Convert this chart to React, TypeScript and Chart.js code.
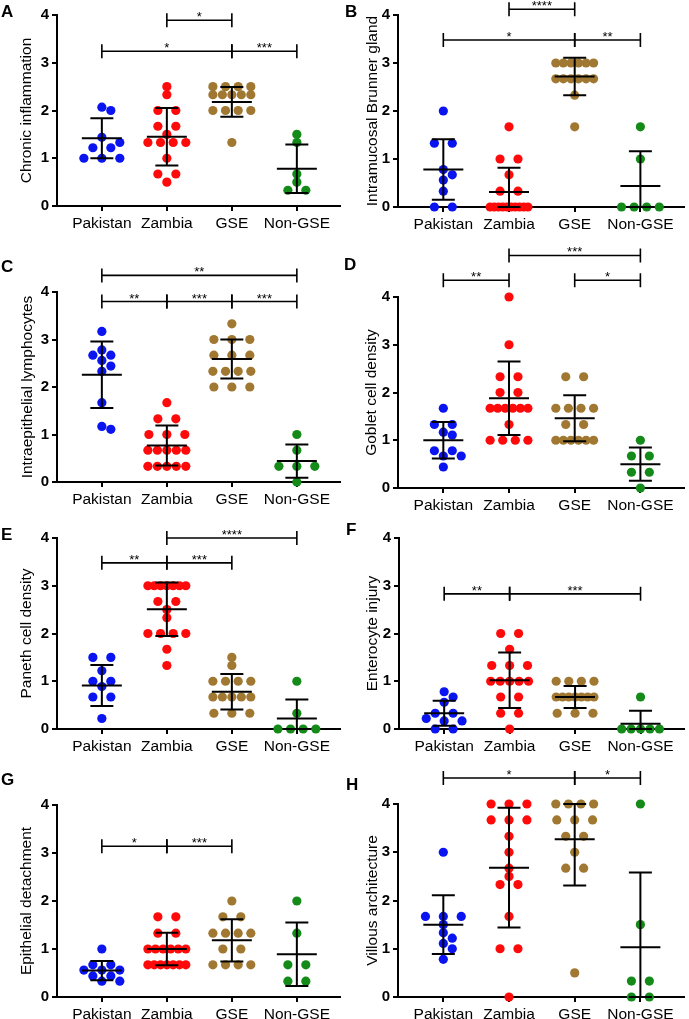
import React, { useEffect, useRef } from 'react';
import { Chart, registerables } from 'chart.js';
Chart.register(...registerables);

// ---------------- data ----------------
const categories = ['Pakistan', 'Zambia', 'GSE', 'Non-GSE'];
const yTickValues = [0, 1, 2, 3, 4];

// A – Chronic inflammation
const chronicPakistan = [2.07, 2.0, 1.44, 1.33, 1.22, 1.22, 1.0, 1.0, 1.0];
const chronicZambia = [2.5, 2.33, 2.0, 2.0, 1.67, 1.67, 1.5, 1.33, 1.33, 1.33, 1.33, 1.0, 0.67, 0.67, 0.5];
const chronicGSE = [2.5, 2.5, 2.5, 2.5, 2.33, 2.33, 2.33, 2.33, 2.33, 2.0, 2.0, 2.0, 2.0, 1.33];
const chronicNonGSE = [1.5, 1.33, 0.67, 0.5, 0.33, 0.33];
const chronicMeans = [1.42, 1.45, 2.18, 0.78];
const chronicSDs = [0.42, 0.6, 0.31, 0.51];
const chronicBrackets: [number, number, number, string][] = [[1, 2, 3.89, '*'], [0, 2, 3.24, '*'], [2, 3, 3.24, '***']];

// B – Intramucosal Brunner gland
const brunnerPakistan = [2.0, 1.33, 1.33, 0.78, 0.67, 0.56, 0.33, 0, 0];
const brunnerZambia = [1.67, 1.0, 1.0, 0.67, 0.33, 0.33, 0, 0, 0, 0, 0, 0, 0, 0, 0, 0];
const brunnerGSE = [3, 3, 3, 3, 3, 3, 2.67, 2.67, 2.67, 2.67, 2.67, 2.67, 2.33, 1.67];
const brunnerNonGSE = [1.67, 1.0, 0, 0, 0, 0];
const brunnerMeans = [0.78, 0.31, 2.72, 0.44];
const brunnerSDs = [0.63, 0.51, 0.39, 0.72];
const brunnerBrackets: [number, number, number, string][] = [[1, 2, 4.12, '****'], [0, 2, 3.48, '*'], [2, 3, 3.48, '**']];

// C – Intraepithelial lymphocytes
const ielPakistan = [3.17, 2.78, 2.67, 2.67, 2.56, 2.44, 2.33, 1.67, 1.17, 1.11];
const ielZambia = [1.67, 1.33, 1.33, 1, 1, 1, 0.67, 0.67, 0.67, 0.67, 0.67, 0.33, 0.33, 0.33, 0.33, 0.33];
const ielGSE = [3.33, 3, 3, 3, 2.67, 2.67, 2.67, 2.33, 2.33, 2.33, 2.33, 2, 2, 2];
const ielNonGSE = [1.0, 0.67, 0.33, 0.33, 0.33, 0];
const ielMeans = [2.26, 0.77, 2.59, 0.44];
const ielSDs = [0.7, 0.42, 0.41, 0.35];
const ielBrackets: [number, number, number, string][] = [[0, 3, 4.35, '**'], [0, 1, 3.8, '**'], [1, 2, 3.8, '***'], [2, 3, 3.8, '***']];

// D – Goblet cell density
const gobletPakistan = [1.67, 1.33, 1.33, 1.17, 1.11, 0.78, 0.78, 0.67, 0.67, 0.44];
const gobletZambia = [4, 3, 2.33, 2.33, 2, 2, 1.67, 1.67, 1.67, 1.67, 1.67, 1.67, 1.33, 1, 1, 1, 1];
const gobletGSE = [2.33, 2.33, 1.67, 1.67, 1.67, 1.67, 1.33, 1.33, 1, 1, 1, 1, 1, 1];
const gobletNonGSE = [1, 0.67, 0.67, 0.33, 0.33, 0];
const gobletMeans = [1.0, 1.88, 1.46, 0.5];
const gobletSDs = [0.38, 0.77, 0.48, 0.35];
const gobletBrackets: [number, number, number, string][] = [[1, 3, 4.87, '***'], [0, 1, 4.35, '**'], [2, 3, 4.35, '*']];

// E – Paneth cell density
const panethPakistan = [1.5, 1.5, 1.22, 1.0, 1.0, 0.89, 0.67, 0.67, 0.22];
const panethZambia = [3, 3, 3, 3, 3, 3, 3, 2.67, 2.67, 2.5, 2.33, 2, 2, 2, 2, 1.67, 1.33];
const panethGSE = [1.5, 1.33, 1, 1, 1, 1, 0.67, 0.67, 0.67, 0.67, 0.67, 0.33, 0.33, 0.33];
const panethNonGSE = [1, 0.33, 0, 0, 0, 0];
const panethMeans = [0.91, 2.51, 0.78, 0.22];
const panethSDs = [0.43, 0.56, 0.37, 0.4];
const panethBrackets: [number, number, number, string][] = [[1, 3, 4.0, '****'], [0, 1, 3.48, '**'], [1, 2, 3.48, '***']];

// F – Enterocyte injury
const injuryPakistan = [0.78, 0.67, 0.56, 0.33, 0.33, 0.22, 0.17, 0.17, 0, 0];
const injuryZambia = [2, 2, 1.67, 1.33, 1.33, 1.33, 1, 1, 1, 1, 1, 0.67, 0.67, 0.33, 0.33, 0];
const injuryGSE = [1, 1, 1, 1, 0.67, 0.67, 0.67, 0.67, 0.67, 0.67, 0.67, 0.33, 0.33, 0.33];
const injuryNonGSE = [0.67, 0, 0, 0, 0, 0];
const injuryMeans = [0.33, 1.02, 0.67, 0.11];
const injurySDs = [0.26, 0.58, 0.23, 0.27];
const injuryBrackets: [number, number, number, string][] = [[0, 1, 2.83, '**'], [1, 3, 2.83, '***']];

// G – Epithelial detachment
const detachPakistan = [1.0, 0.67, 0.67, 0.56, 0.56, 0.56, 0.44, 0.44, 0.33, 0.33];
const detachZambia = [1.67, 1.67, 1.33, 1.33, 1, 1, 1, 1, 1, 1, 0.67, 0.67, 0.67, 0.67, 0.67, 0.67, 0.67];
const detachGSE = [2, 1.67, 1.67, 1.33, 1.33, 1.33, 1.33, 1, 1, 0.67, 0.67, 0.67, 0.67];
const detachNonGSE = [2, 1.33, 0.67, 0.67, 0.33, 0.33];
const detachMeans = [0.55, 1.0, 1.18, 0.89];
const detachSDs = [0.2, 0.34, 0.44, 0.66];
const detachBrackets: [number, number, number, string][] = [[0, 1, 3.14, '*'], [1, 2, 3.14, '***']];

// H – Villous architecture
const villousPakistan = [3, 1.67, 1.67, 1.67, 1.5, 1.33, 1.22, 1.11, 1.0, 0.78];
const villousZambia = [4, 4, 4, 3.67, 3.67, 3.67, 3.33, 3, 2.67, 2.5, 2.33, 2.33, 1.67, 1, 1, 0];
const villousGSE = [4, 4, 4, 4, 3.67, 3.67, 3.67, 3.33, 3.33, 3, 2.67, 2.67, 0.5];
const villousNonGSE = [4, 1.5, 0.33, 0.33, 0, 0];
const villousMeans = [1.5, 2.68, 3.27, 1.03];
const villousSDs = [0.61, 1.24, 0.96, 1.55];
const villousBrackets: [number, number, number, string][] = [[0, 2, 4.54, '*'], [2, 3, 4.54, '*']];

// ---------------- styling / layout ----------------
const groupColors = ['#0a14f0', '#ff0a0a', '#a07832', '#148a18'];
const FONT = "'Liberation Sans', Arial, Helvetica, sans-serif";

type Panel = {
  letter: string; title: string; groups: number[][]; means: number[]; sds: number[];
  brackets: [number, number, number, string][];
};
type Box = { left: number; width: number; axisX: number; plotTop: number; plotBottom: number; plotRight: number; titlePad: number; letterX: number; letterY: number };

const panels: Panel[] = [
  { letter: 'A', title: 'Chronic inflammation', groups: [chronicPakistan, chronicZambia, chronicGSE, chronicNonGSE], means: chronicMeans, sds: chronicSDs, brackets: chronicBrackets },
  { letter: 'B', title: 'Intramucosal Brunner gland', groups: [brunnerPakistan, brunnerZambia, brunnerGSE, brunnerNonGSE], means: brunnerMeans, sds: brunnerSDs, brackets: brunnerBrackets },
  { letter: 'C', title: 'Intraepithelial lymphocytes', groups: [ielPakistan, ielZambia, ielGSE, ielNonGSE], means: ielMeans, sds: ielSDs, brackets: ielBrackets },
  { letter: 'D', title: 'Goblet cell density', groups: [gobletPakistan, gobletZambia, gobletGSE, gobletNonGSE], means: gobletMeans, sds: gobletSDs, brackets: gobletBrackets },
  { letter: 'E', title: 'Paneth cell density', groups: [panethPakistan, panethZambia, panethGSE, panethNonGSE], means: panethMeans, sds: panethSDs, brackets: panethBrackets },
  { letter: 'F', title: 'Enterocyte injury', groups: [injuryPakistan, injuryZambia, injuryGSE, injuryNonGSE], means: injuryMeans, sds: injurySDs, brackets: injuryBrackets },
  { letter: 'G', title: 'Epithelial detachment', groups: [detachPakistan, detachZambia, detachGSE, detachNonGSE], means: detachMeans, sds: detachSDs, brackets: detachBrackets },
  { letter: 'H', title: 'Villous architecture', groups: [villousPakistan, villousZambia, villousGSE, villousNonGSE], means: villousMeans, sds: villousSDs, brackets: villousBrackets },
];

const boxes: Box[] = [
  { left: 0, width: 345, axisX: 57, plotTop: 15, plotBottom: 206, plotRight: 341, titlePad: 17, letterX: 1, letterY: 3 },
  { left: 345, width: 344, axisX: 398, plotTop: 15, plotBottom: 207, plotRight: 686, titlePad: 18, letterX: 345, letterY: 3 },
  { left: 0, width: 345, axisX: 57, plotTop: 292, plotBottom: 482, plotRight: 341, titlePad: 18, letterX: 1, letterY: 258 },
  { left: 345, width: 344, axisX: 398, plotTop: 297, plotBottom: 488, plotRight: 686, titlePad: 17, letterX: 344, letterY: 256 },
  { left: 0, width: 345, axisX: 57, plotTop: 538, plotBottom: 729, plotRight: 341, titlePad: 17, letterX: 1, letterY: 526 },
  { left: 345, width: 344, axisX: 399, plotTop: 538, plotBottom: 729, plotRight: 686, titlePad: 18, letterX: 346, letterY: 521 },
  { left: 0, width: 345, axisX: 57, plotTop: 805, plotBottom: 997, plotRight: 341, titlePad: 17, letterX: 1, letterY: 771 },
  { left: 345, width: 344, axisX: 398, plotTop: 804, plotBottom: 997, plotRight: 686, titlePad: 18, letterX: 346, letterY: 776 },
];

const X_MIN = -0.69;
const X_MAX = 3.67;
const PAD_TOP = 60;
const PAD_BOTTOM = 45;

// beeswarm-style horizontal spreading of equal / close values (pixel space)
function swarm(values: number[], pxPerY: number, pxPerX: number): number[] {
  const S = 18, D = 7.8, W = 38;
  const groups = new Map<number, number[]>();
  values.forEach((v, i) => {
    const k = Math.round(v * 100);
    if (!groups.has(k)) groups.set(k, []);
    groups.get(k)!.push(i);
  });
  const order = [...groups.entries()].sort((a, b) => b[1].length - a[1].length || b[0] - a[0]);
  const placed: { x: number; y: number }[] = [];
  const off = new Array(values.length).fill(0);
  for (const [, idx] of order) {
    const n = idx.length;
    const y = values[idx[0]] * pxPerY;
    const sp0 = n > 1 ? Math.min(S, W / (n - 1)) : S;
    let chosen: number[] | null = null;
    const factors = n === 2 ? [1, 0.6, 1.5] : [1];
    for (const f of factors) {
      const sp = sp0 * f;
      const base = idx.map((_, j) => (j - (n - 1) / 2) * sp);
      const shifts = [0];
      const maxShift = n === 1 ? 4 : 1;
      for (let m = 1; m <= maxShift; m++) shifts.push(m * S / 2, -m * S / 2);
      for (const s of shifts) {
        const cand = base.map((b) => b + s);
        const ok = cand.every((cx) => placed.every((p) => Math.hypot(p.x - cx, p.y - y) >= D));
        if (ok) { chosen = cand; break; }
      }
      if (chosen) break;
    }
    if (!chosen) chosen = idx.map((_, j) => (j - (n - 1) / 2) * sp0);
    chosen.forEach((cx, j) => {
      off[idx[j]] = cx / pxPerX;
      placed.push({ x: cx, y });
    });
  }
  return off;
}

const errorBarPlugin = {
  id: 'errbars',
  afterDatasetsDraw(chart: any, _args: any, opts: any) {
    const { ctx, scales: { x, y } } = chart;
    const means: number[] = opts.means;
    const sds: number[] = opts.sds;
    ctx.save();
    ctx.strokeStyle = '#000';
    ctx.lineWidth = 2;
    means.forEach((m, i) => {
      const cx = x.getPixelForValue(i);
      const yt = y.getPixelForValue(Math.min(4, m + sds[i]));
      const yb = y.getPixelForValue(Math.max(0, m - sds[i]));
      const ym = y.getPixelForValue(m);
      ctx.beginPath();
      ctx.moveTo(cx, yt); ctx.lineTo(cx, yb);
      ctx.moveTo(cx - 20, ym); ctx.lineTo(cx + 20, ym);
      ctx.moveTo(cx - 11.5, yt); ctx.lineTo(cx + 11.5, yt);
      ctx.moveTo(cx - 11.5, yb); ctx.lineTo(cx + 11.5, yb);
      ctx.stroke();
    });
    ctx.restore();
  },
};

const bracketPlugin = {
  id: 'brackets',
  afterDraw(chart: any, _args: any, opts: any) {
    const { ctx, scales: { x, y } } = chart;
    const list: [number, number, number, string][] = opts.list;
    ctx.save();
    ctx.strokeStyle = '#000';
    ctx.fillStyle = '#000';
    ctx.lineWidth = 1.6;
    ctx.font = `13px ${FONT}`;
    ctx.textAlign = 'center';
    ctx.textBaseline = 'alphabetic';
    list.forEach(([a, b, v, label]) => {
      const x1 = x.getPixelForValue(a);
      const x2 = x.getPixelForValue(b);
      const py = y.getPixelForValue(v);
      ctx.beginPath();
      ctx.moveTo(x1, py); ctx.lineTo(x2, py);
      ctx.moveTo(x1, py - 7); ctx.lineTo(x1, py + 7);
      ctx.moveTo(x2, py - 7); ctx.lineTo(x2, py + 7);
      ctx.stroke();
      ctx.fillText(label, (x1 + x2) / 2, py + 1);
    });
    ctx.restore();
  },
};

function PanelChart({ panel, box }: { panel: Panel; box: Box }) {
  const ref = useRef<HTMLCanvasElement>(null);
  const plotH = box.plotBottom - box.plotTop;
  const height = PAD_TOP + plotH + PAD_BOTTOM;
  useEffect(() => {
    if (!ref.current) return;
    const pxPerX = (box.plotRight - box.axisX) / (X_MAX - X_MIN);
    const pxPerY = plotH / 4;
    const datasets = panel.groups.map((vals, gi) => {
      const offs = swarm(vals, pxPerY, pxPerX);
      return {
        data: vals.map((v, i) => ({ x: gi + offs[i], y: v })),
        backgroundColor: groupColors[gi],
        borderColor: groupColors[gi],
        borderWidth: 0,
        pointRadius: 4.6,
        clip: false as any,
      };
    });
    const chart = new Chart(ref.current, {
      type: 'scatter',
      data: { datasets },
      options: {
        animation: false,
        responsive: false,
        events: [],
        layout: { padding: { top: PAD_TOP, right: box.left + box.width - box.plotRight, left: 0, bottom: 0 } },
        plugins: {
          legend: { display: false },
          tooltip: { enabled: false },
          errbars: { means: panel.means, sds: panel.sds },
          brackets: { list: panel.brackets },
        } as any,
        scales: {
          x: {
            type: 'linear',
            min: X_MIN,
            max: X_MAX,
            afterBuildTicks: (s: any) => { s.ticks = [0, 1, 2, 3].map((v) => ({ value: v })); },
            afterFit: (s: any) => { s.height = PAD_BOTTOM; },
            ticks: {
              callback: (v: any) => categories[Math.round(v)] ?? '',
              font: { family: FONT, size: 15.5 },
              color: '#000',
              padding: 3,
              maxRotation: 0,
              autoSkip: false,
            },
            grid: { drawOnChartArea: false, drawTicks: true, tickLength: 5, color: '#000', lineWidth: 2 },
            border: { display: true, color: '#000', width: 2 },
          },
          y: {
            type: 'linear',
            min: 0,
            max: 4,
            afterBuildTicks: (s: any) => { s.ticks = yTickValues.map((v) => ({ value: v })); },
            afterFit: (s: any) => { s.width = box.axisX - box.left; },
            ticks: { font: { family: FONT, size: 15, weight: 'bold' }, color: '#000', padding: 3 },
            grid: { drawOnChartArea: false, drawTicks: true, tickLength: 5, color: '#000', lineWidth: 2 },
            border: { display: true, color: '#000', width: 2 },
            title: {
              display: true,
              text: panel.title,
              font: { family: FONT, size: 15.5 },
              color: '#000',
              padding: { top: box.titlePad, bottom: 0 },
            },
          },
        },
      },
      plugins: [errorBarPlugin, bracketPlugin],
    } as any);
    return () => chart.destroy();
  }, [panel, box]);
  return (
    <canvas
      ref={ref}
      width={box.width}
      height={height}
      style={{ position: 'absolute', left: box.left, top: box.plotTop - PAD_TOP, width: box.width, height, display: 'block' }}
    />
  );
}

export default function App() {
  return (
    <div style={{ position: 'absolute', left: 0, top: 0, width: 689, height: 1019, overflow: 'hidden', background: '#fff' }}>
      {panels.map((p, i) => (
        <PanelChart key={p.letter} panel={p} box={boxes[i]} />
      ))}
      {panels.map((p, i) => (
        <div
          key={'l' + p.letter}
          style={{ position: 'absolute', left: boxes[i].letterX, top: boxes[i].letterY, font: `bold 17px ${FONT}`, lineHeight: '17px', color: '#000' }}
        >
          {p.letter}
        </div>
      ))}
    </div>
  );
}
